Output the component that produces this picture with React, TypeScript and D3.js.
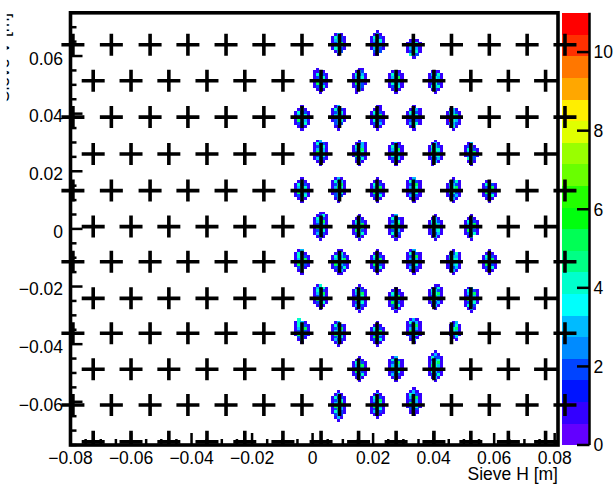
import React from "react";
import * as d3 from "d3";

const W = 616;
const H = 484;

// Axis tick values
const xTickValues = [-0.08, -0.06, -0.04, -0.02, 0, 0.02, 0.04, 0.06, 0.08];
const yTickValues = [-0.06, -0.04, -0.02, 0, 0.02, 0.04, 0.06];
const zTickValues = [0, 2, 4, 6, 8, 10];

const xTitle = "Sieve H [m]";
const yTitle = "Sieve V [m]";

// Sieve hole centres (m): full rows and half-pitch shifted rows
const rowsFullY = [0.0639, 0.0388, 0.0133, -0.0114, -0.0362, -0.0611];
const rowsShiftedY = [0.0514, 0.026, 0.0008, -0.0241, -0.0487, -0.0739];
const colsFullX = [
  -0.0792, -0.0665, -0.0537, -0.0412, -0.0286, -0.0161, -0.0035, 0.0089, 0.0213,
  0.0333, 0.0459, 0.0584, 0.0709, 0.0834,
];
const colsShiftedX = [
  -0.0725, -0.06, -0.0475, -0.0349, -0.0224, -0.0098, 0.0028, 0.0152, 0.0276,
  0.0401, 0.0523, 0.0647, 0.077,
];

// Hit clusters in 1 mm bins: x = left bin edge, y = top bin edge (m),
// cells listed row by row from the top ('.' = empty, a = 10, b = 11)
const clusters: { x: number; y: number; g: string }[] = [
  // y ≈ 0.064
  { x: 0.006, y: 0.068, g: ".131./14321/13421/12451/13531/14421/.132./..1.." },
  { x: 0.019, y: 0.069, g: "..1../.131./14221/13341/12431/15531/13421/.232./.11.." },
  { x: 0.031, y: 0.066, g: ".131./12341/14421/13531/12541/.432./..1.." },
  // y ≈ 0.0515
  { x: 0.0, y: 0.056, g: ".1.../1131./14221/12341/13431/15321/12241/.131./..1.." },
  { x: 0.013, y: 0.056, g: "..11./.132./14231/13341/12431/15321/1232./.131./.1..." },
  { x: 0.025, y: 0.055, g: ".131./14221/13351/12431/14331/12241/.131./..1.." },
  { x: 0.038, y: 0.055, g: ".111./13241/12431/15531/12421/14341/.121./..1.." },
  // y ≈ 0.039
  { x: -0.006, y: 0.043, g: "..1../.131./14221/13341/12421/15331/12241/.121./..1.." },
  { x: 0.006, y: 0.043, g: ".13../14221/12341/13431/15531/12341/.232./.11../..1.." },
  { x: 0.019, y: 0.043, g: "..11./.131./14321/13451/12431/14321/12231/.131./..1.." },
  { x: 0.031, y: 0.043, g: "..1../.1231/14321/13441/15531/12421/13241/.13../..1.." },
  { x: 0.044, y: 0.042, g: ".131./14321/13451/12541/1b431/13321/.141./..1.." },
  // y ≈ 0.026
  { x: 0.0, y: 0.031, g: ".13../14221/12341/13431/15431/12341/13221/.131./..1.." },
  { x: 0.013, y: 0.031, g: "..1../.1231/14331/13451/12541/15421/.2241/.131./..1.." },
  { x: 0.025, y: 0.03, g: ".131./14321/13451/12531/14431/12241/.131./..1.." },
  { x: 0.038, y: 0.031, g: "..1../.131./14321/13441/15531/13341/12231/.131./.1..." },
  { x: 0.05, y: 0.03, g: ".13../1241./14321/13451/12421/.432./.131./..1.." },
  // y ≈ 0.013
  { x: -0.006, y: 0.018, g: "..1../.131./14221/13341/12431/15331/12241/.131./..1.." },
  { x: 0.006, y: 0.018, g: ".131./14231/12451/13541/14431/12341/.232./.13../..1.." },
  { x: 0.019, y: 0.018, g: "..1../.131./14321/13451/12531/15421/12241/.131./..1.." },
  { x: 0.031, y: 0.018, g: ".13../14221/12351/13441/15431/12341/13221/.131./..1.." },
  { x: 0.044, y: 0.018, g: "..1../.1241/14321/13451/12531/15421/12231/.131./..1.." },
  { x: 0.056, y: 0.017, g: ".13../14221/12351/13431/15421/12241/.131./..1.." },
  // y ≈ 0.001
  { x: 0.0, y: 0.006, g: "..11./.1241/14321/13451/12531/15431/12341/13221/.131./..1.." },
  { x: 0.013, y: 0.005, g: "..1../.131./14321/13451/12541/15421/12341/.131./..1.." },
  { x: 0.025, y: 0.005, g: ".13../14221/12341/13451/15431/12331/1422./.131./..1.." },
  { x: 0.038, y: 0.005, g: "..1../.131./14321/13531/15441/12341/12231/.131./..1.." },
  { x: 0.05, y: 0.005, g: "..1../.131./14221/13351/12431/15321/12241/.13../..1.." },
  // y ≈ -0.011
  { x: -0.006, y: -0.007, g: ".13../1421./14321/13451/12421/15321/.241./.13../..1.." },
  { x: 0.006, y: -0.007, g: "..11../.1241./143321/134451/125431/154321/122241/.1231./..11.." },
  { x: 0.019, y: -0.007, g: "..1../.131./14321/13451/12431/15521/12241/.131./..1.." },
  { x: 0.031, y: -0.007, g: ".13../14221/12351/13431/15431/12341/13221/.131./..1.." },
  { x: 0.044, y: -0.007, g: "..1../.1241/14331/13441/15531/12341/12231/.131./..1.." },
  { x: 0.056, y: -0.007, g: "..1../.131./14421/13451/12531/15421/12241/.131./..1.." },
  // y ≈ -0.024
  { x: 0.0, y: -0.019, g: ".14../13241/14321/13451/12431/15321/12241/.131./..1.." },
  { x: 0.013, y: -0.019, g: "..1../.131./14321/13451/12441/15531/12341/13221/.131./..1.." },
  { x: 0.025, y: -0.02, g: "..1../.131./14321/13451/12431/15321/12341/.131./..1.." },
  { x: 0.038, y: -0.019, g: "..11./.1241/14321/13451/12531/15421/12231/.131./..1.." },
  { x: 0.05, y: -0.02, g: ".13../14221/13351/12431/15431/12341/1422./.131./..1.." },
  // y ≈ -0.036
  { x: -0.006, y: -0.031, g: ".4.../1431./14321/13451/12421/15321/.241./.13../..1.." },
  { x: 0.006, y: -0.032, g: ".13../14221/12351/13431/15431/12341/13221/.131./..1.." },
  { x: 0.019, y: -0.032, g: "..1../.131./14321/13451/12531/15421/12241/.131./..1.." },
  { x: 0.031, y: -0.031, g: ".131./14231/12451/13431/15321/12441/.231./.13../..1.." },
  { x: 0.045, y: -0.032, g: ".13./1241/1451/1431/1241/.13./..1." },
  // y ≈ -0.049
  { x: 0.013, y: -0.044, g: "..1../.131./14321/13451/12431/15321/12241/.131./..1.." },
  { x: 0.025, y: -0.044, g: ".13../14221/12351/13431/15431/12341/13221/.131./..1.." },
  { x: 0.038, y: -0.042, g: "..1../.131./14221/12341/13451/15431/12531/14321/12241/.131./..1.." },
  // y ≈ -0.061
  { x: 0.006, y: -0.056, g: "..1../.131./14221/12341/13451/15431/12531/14321/.232./.131./..1.." },
  { x: 0.019, y: -0.056, g: "..1../.131./14321/13451/12541/15431/12341/13221/.131./..1.." },
  { x: 0.031, y: -0.055, g: "..1../.131./14321/13451/12531/15431/12341/.232./.131./..1.." },
];

const BIN = 0.001;
const NLEVELS = 20;
const NCOLORS = 50;

type Cell = { x0: number; x1: number; yTop: number; yBot: number; v: number };

const cells: Cell[] = [];
clusters.forEach((c) => {
  c.g.split("/").forEach((row, r) => {
    row.split("").forEach((ch, k) => {
      const v = ch === "." ? 0 : parseInt(ch, 36);
      if (v > 0) {
        const x0 = c.x + k * BIN;
        const yTop = c.y - r * BIN;
        cells.push({ x0, x1: x0 + BIN, yTop, yBot: yTop - BIN, v });
      }
    });
  });
});

const zMax = d3.max(cells, (d) => d.v) as number;

// Classic pretty palette: 50 hues from violet down to red
const paletteColor = (idx: number) => {
  const hue = 280 - (idx + 1) * (280 / NCOLORS);
  return d3.hsl(hue, 1, 0.5).formatHex();
};
const levelColorIndex = (level: number) =>
  Math.min(NCOLORS - 1, Math.floor((level + 0.99) * (NCOLORS / NLEVELS)));
const valueColor = (v: number) => {
  const level = Math.floor(0.01 + (v * NLEVELS) / zMax);
  return paletteColor(levelColorIndex(level));
};

const FRAME = { left: 70.5, right: 558, top: 12.8, bottom: 445 };
const PAL = { left: 561.5, right: 589.5 };
const FONT = "'Liberation Sans', Arial, Helvetica, sans-serif";
const FS = 17.5;

const fmt = (v: number) => {
  if (Math.abs(v) < 1e-9) return "0";
  const s = Math.abs(v).toFixed(2);
  return v < 0 ? "\u2212" + s : s;
};

export default function App() {
  const x = d3.scaleLinear().domain([-0.08, 0.0811]).range([FRAME.left, FRAME.right]);
  const y = d3.scaleLinear().domain([-0.075, 0.075]).range([FRAME.bottom, FRAME.top]);
  const z = d3.scaleLinear().domain([0, zMax]).range([FRAME.bottom, FRAME.top]);

  const xMinor = d3
    .range(-16, 17)
    .filter((i) => i % 4 !== 0)
    .map((i) => i * 0.005)
    .filter((v) => v >= -0.08 && v <= 0.0811);
  const yMinor = d3
    .range(-15, 16)
    .filter((i) => i % 4 !== 0)
    .map((i) => i * 0.005);

  const bands = d3.range(NLEVELS).map((i) => ({
    lo: (i * zMax) / NLEVELS,
    hi: ((i + 1) * zMax) / NLEVELS,
    color: paletteColor(levelColorIndex(i)),
  }));

  const holes = [
    ...rowsFullY.flatMap((yy) => colsFullX.map((xx) => [xx, yy])),
    ...rowsShiftedY.flatMap((yy) => colsShiftedX.map((xx) => [xx, yy])),
  ];
  const crossPath = holes
    .map(([hx, hy]) => {
      const cx = x(hx);
      const cy = y(hy);
      return `M${cx - 11.5},${cy}H${cx + 11.5}M${cx},${cy - 11}V${cy + 11}`;
    })
    .join("");

  return (
    <svg
      width={W}
      height={H}
      viewBox={`0 0 ${W} ${H}`}
      style={{ position: "absolute", left: 0, top: 0, background: "#fff" }}
    >
      <defs>
        <clipPath id="frameY">
          <rect x={0} y={FRAME.top} width={W} height={FRAME.bottom - FRAME.top} />
        </clipPath>
        <clipPath id="padLeft">
          <rect x={6.7} y={0} width={W} height={H} />
        </clipPath>
      </defs>
      <rect x={0} y={0} width={W} height={H} fill="#fff" />

      {/* histogram cells */}
      <g shapeRendering="crispEdges">
        {cells.map((c, i) => (
          <rect
            key={i}
            x={x(c.x0)}
            y={y(c.yTop)}
            width={x(c.x1) - x(c.x0) + 0.2}
            height={y(c.yBot) - y(c.yTop) + 0.2}
            fill={valueColor(c.v)}
          />
        ))}
      </g>

      {/* palette */}
      <g shapeRendering="crispEdges">
        {bands.map((b, i) => (
          <rect
            key={i}
            x={PAL.left}
            y={z(b.hi)}
            width={PAL.right - PAL.left}
            height={z(b.lo) - z(b.hi) + 0.3}
            fill={b.color}
          />
        ))}
      </g>
      <g stroke="#000" strokeWidth={2.5}>
        <line x1={PAL.right} x2={PAL.right} y1={FRAME.top} y2={FRAME.bottom} />
        {zTickValues.map((t) => (
          <line key={t} x1={PAL.right - 12.5} x2={PAL.right} y1={z(t)} y2={z(t)} />
        ))}
      </g>
      <g fontFamily={FONT} fontSize={FS} fill="#000">
        {zTickValues.map((t) => (
          <text key={t} x={593.5} y={z(t) + 6.3}>
            {t}
          </text>
        ))}
      </g>

      {/* axis ticks */}
      <g stroke="#000" strokeWidth={2.5}>
        {xTickValues.map((t) => (
          <line key={"xM" + t} x1={x(t)} x2={x(t)} y1={FRAME.bottom} y2={FRAME.bottom - 12} />
        ))}
        {xMinor.map((t) => (
          <line key={"xm" + t} x1={x(t)} x2={x(t)} y1={FRAME.bottom} y2={FRAME.bottom - 6} />
        ))}
        {yTickValues.map((t) => (
          <line key={"yM" + t} x1={FRAME.left} x2={FRAME.left + 12} y1={y(t)} y2={y(t)} />
        ))}
        {yMinor.map((t) => (
          <line key={"ym" + t} x1={FRAME.left} x2={FRAME.left + 6} y1={y(t)} y2={y(t)} />
        ))}
      </g>

      {/* frame */}
      <rect
        x={FRAME.left}
        y={FRAME.top}
        width={FRAME.right - FRAME.left}
        height={FRAME.bottom - FRAME.top}
        fill="none"
        stroke="#000"
        strokeWidth={3.6}
      />

      {/* tick labels and titles */}
      <g fontFamily={FONT} fontSize={FS} fill="#000">
        {xTickValues.map((t) => (
          <text key={"xl" + t} x={x(t)} y={463.5} textAnchor="middle">
            {fmt(t)}
          </text>
        ))}
        {yTickValues.map((t) => (
          <text key={"yl" + t} x={63} y={y(t) + 8.8} textAnchor="end">
            {fmt(t)}
          </text>
        ))}
        <text x={FRAME.right} y={480} textAnchor="end">
          {xTitle}
        </text>
        <g clipPath="url(#padLeft)">
          <text
            transform={`translate(9, ${FRAME.top}) rotate(-90)`}
            textAnchor="end"
          >
            {yTitle}
          </text>
        </g>
      </g>

      {/* sieve hole markers */}
      <path
        d={crossPath}
        clipPath="url(#frameY)"
        fill="none"
        stroke="#000"
        strokeWidth={3.6}
      />
    </svg>
  );
}
